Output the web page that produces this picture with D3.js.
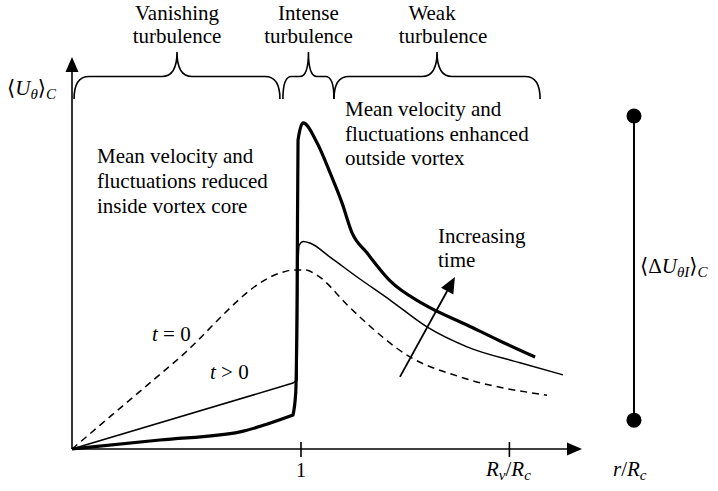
<!DOCTYPE html>
<html><head><meta charset="utf-8">
<script src="https://cdn.jsdelivr.net/npm/d3@7"></script>
<style>
body{margin:0;background:#fff}
svg{display:block}
</style>
</head><body>
<svg id="c" width="718" height="491"></svg>
<script>
// ---- data (r/Rc, <U_theta>_C in arbitrary units 0..100) ----
// t = 0 (dashed)
const rT0   = [0, 0.454, 0.908, 0.965, 1.017, 1.074, 1.201, 1.258, 1.476, 1.694, 2.074];
const uT0   = [0, 22.6, 45.1, 45.9, 45.9, 44.4, 37.0, 33.8, 23.6, 18.5, 13.8];
// t > 0 (thin): inner core part and outer part
const rT1in  = [0, 0.965, 0.983];
const uT1in  = [0, 16.9, 17.7];
const rT1out = [0.983, 0.986, 0.992, 1.010, 1.039, 1.127, 1.245, 1.389, 1.550, 1.725, 1.956, 2.144];
const uT1out = [17.7, 45.0, 52.3, 53.2, 52.8, 49.2, 44.1, 38.2, 31.3, 26.2, 22.1, 19.0];
// later time (thick): inner core part and outer part
const rT2in  = [0, 0.384, 0.734, 0.843, 0.965];
const uT2in  = [0, 2.3, 4.4, 6.2, 8.7];
const rT2out = [0.965, 0.977, 0.983, 0.987, 1.009, 1.070, 1.127, 1.179, 1.223, 1.288, 1.389, 1.533, 1.725, 1.869, 2.022];
const uT2out = [8.7, 14.5, 40.0, 79.2, 83.6, 78.5, 70.8, 63.1, 55.4, 50.3, 43.1, 37.2, 31.8, 27.7, 23.6];
const xTickValues = [1, 1.91];
const regionNames = [["Vanishing", "turbulence"], ["Intense", "turbulence"], ["Weak", "turbulence"]];
const regionStart = [0.009, 0.921, 1.144];
const regionEnd   = [0.908, 1.144, 2.044];
const timeArrowR  = [1.432, 1.672];
const timeArrowU  = [18.5, 44.1];
const deltaBarR   = 2.454;
const deltaBarU   = [7.4, 85.4];

const FONT = "'Times New Roman', 'Liberation Serif', 'DejaVu Serif', serif";
const FS = 21;
const svg = d3.select("#c").attr("font-family", FONT);
const x = d3.scaleLinear().domain([0, 2.227]).range([72, 582]);
const y = d3.scaleLinear().domain([0, 100]).range([449, 59]);

const toPts = (rs, us) => rs.map((r, i) => [r, us[i]]);
const lineLin = d3.line().x(d => x(d[0])).y(d => y(d[1])).curve(d3.curveLinear);
const lineMono = d3.line().x(d => x(d[0])).y(d => y(d[1])).curve(d3.curveMonotoneX);
const joined = (a, b) => a + b.replace(/^M/, "L");

function txt(px, py, size) {
  return svg.append("text").attr("x", px).attr("y", py).attr("font-size", size || FS)
    .attr("font-family", FONT).attr("fill", "#000");
}

// axes
const x0 = x(0), y0 = y(0);
svg.append("line").attr("x1", x0).attr("y1", y0).attr("x2", x(2.227) - 10).attr("y2", y0)
  .attr("stroke", "#000").attr("stroke-width", 1.6);
svg.append("path").attr("d", `M${x(2.227)},${y0} L${x(2.227)-15},${y0-6.5} L${x(2.227)-15},${y0+6.5} Z`).attr("fill", "#000");
svg.append("line").attr("x1", x0).attr("y1", y0).attr("x2", x0).attr("y2", y(100) + 10)
  .attr("stroke", "#000").attr("stroke-width", 1.6);
svg.append("path").attr("d", `M${x0},${y(100)-2} L${x0-6.5},${y(100)+13} L${x0+6.5},${y(100)+13} Z`).attr("fill", "#000");

// ticks
svg.selectAll("line.tick").data(xTickValues).join("line").attr("class", "tick")
  .attr("x1", d => x(d)).attr("x2", d => x(d)).attr("y1", y0 - 7).attr("y2", y0 + 8)
  .attr("stroke", "#000").attr("stroke-width", 1.6);

// tick labels
txt(x(1), 477, 20).attr("text-anchor", "middle").text("1");
const rv = txt(x(1.91) - 1, 476, FS).attr("text-anchor", "middle");
rv.append("tspan").attr("font-style", "italic").text("R");
rv.append("tspan").attr("font-style", "italic").attr("font-size", 15).attr("dy", 4).text("v");
rv.append("tspan").attr("dy", -4).text("/");
rv.append("tspan").attr("font-style", "italic").text("R");
rv.append("tspan").attr("font-style", "italic").attr("font-size", 15).attr("dy", 4).text("c");
const rr = txt(613, 476, FS);
rr.append("tspan").attr("font-style", "italic").text("r");
rr.append("tspan").text("/");
rr.append("tspan").attr("font-style", "italic").text("R");
rr.append("tspan").attr("font-style", "italic").attr("font-size", 15).attr("dy", 4).text("c");

// y label
const yl = txt(7, 95, FS);
yl.append("tspan").text("\u27E8");
yl.append("tspan").attr("font-style", "italic").text("U");
yl.append("tspan").attr("font-style", "italic").attr("font-size", 15).attr("dy", 4).text("\u03B8");
yl.append("tspan").attr("dy", -4).text("\u27E9");
yl.append("tspan").attr("font-style", "italic").attr("font-size", 15).attr("dy", 4).text("C");

// curves
svg.append("path").attr("d", lineMono(toPts(rT0, uT0))).attr("fill", "none").attr("stroke", "#000")
  .attr("stroke-width", 1.5).attr("stroke-dasharray", "7,5");
svg.append("path").attr("d", joined(lineLin(toPts(rT1in, uT1in)), lineMono(toPts(rT1out, uT1out))))
  .attr("fill", "none").attr("stroke", "#000").attr("stroke-width", 1.5);
svg.append("path").attr("d", joined(lineMono(toPts(rT2in, uT2in)), lineMono(toPts(rT2out, uT2out))))
  .attr("fill", "none").attr("stroke", "#000").attr("stroke-width", 3.2).attr("stroke-linejoin", "round");

// braces
const yb = 99, yh = 76.5, yt = 52;
regionStart.forEach((s, i) => {
  const a = x(s), b = x(regionEnd[i]), m = (a + b) / 2;
  const r = Math.min(15, (b - a) / 6);
  const p = `M${a},${yb} Q${a},${yh} ${a + r},${yh} L${m - r},${yh} Q${m},${yh} ${m},${yt} ` +
            `Q${m},${yh} ${m + r},${yh} L${b - r},${yh} Q${b},${yh} ${b},${yb}`;
  svg.append("path").attr("d", p).attr("fill", "none").attr("stroke", "#000").attr("stroke-width", 1.6);
  const dx = i === 2 ? [-5, 6] : [0, 0];
  txt(m + dx[0], 20, FS).attr("text-anchor", "middle").text(regionNames[i][0]);
  txt(m + dx[1], 43, FS).attr("text-anchor", "middle").text(regionNames[i][1]);
});

// annotations
const leftLines = ["Mean velocity and", "fluctuations reduced", "inside vortex core"];
leftLines.forEach((t, i) => txt(97, 163 + i * 25, FS).text(t));
const rightLines = ["Mean velocity and", "fluctuations enhanced", "outside vortex"];
rightLines.forEach((t, i) => txt(345, 116 + i * 24.5, FS).text(t));

const t0 = txt(152, 341, FS);
t0.append("tspan").attr("font-style", "italic").text("t");
t0.append("tspan").text(" = 0");
const t1 = txt(210, 379, FS);
t1.append("tspan").attr("font-style", "italic").text("t");
t1.append("tspan").text(" > 0");

txt(438, 243, FS).text("Increasing");
txt(438, 267, FS).text("time");

// time arrow
{
  const ax1 = x(timeArrowR[0]), ay1 = y(timeArrowU[0]), ax2 = x(timeArrowR[1]), ay2 = y(timeArrowU[1]);
  const ang = Math.atan2(ay2 - ay1, ax2 - ax1);
  const L = 16, W = 7;
  const bx = ax2 - L * Math.cos(ang), by = ay2 - L * Math.sin(ang);
  svg.append("line").attr("x1", ax1).attr("y1", ay1).attr("x2", bx).attr("y2", by)
    .attr("stroke", "#000").attr("stroke-width", 1.8);
  svg.append("path").attr("d",
    `M${ax2},${ay2} L${bx + W * Math.sin(ang)},${by - W * Math.cos(ang)} L${bx - W * Math.sin(ang)},${by + W * Math.cos(ang)} Z`)
    .attr("fill", "#000");
}

// delta bar
svg.append("line").attr("x1", x(deltaBarR)).attr("x2", x(deltaBarR))
  .attr("y1", y(deltaBarU[0])).attr("y2", y(deltaBarU[1])).attr("stroke", "#000").attr("stroke-width", 2);
svg.selectAll("circle.end").data(deltaBarU).join("circle").attr("class", "end")
  .attr("cx", x(deltaBarR)).attr("cy", d => y(d)).attr("r", 7.5).attr("fill", "#000");
const dl = txt(640, 273, FS);
dl.append("tspan").text("\u27E8\u0394");
dl.append("tspan").attr("font-style", "italic").text("U");
dl.append("tspan").attr("font-style", "italic").attr("font-size", 15).attr("dy", 4).text("\u03B8I");
dl.append("tspan").attr("dy", -4).text("\u27E9");
dl.append("tspan").attr("font-style", "italic").attr("font-size", 15).attr("dy", 4).text("C");
</script>
</body></html>
